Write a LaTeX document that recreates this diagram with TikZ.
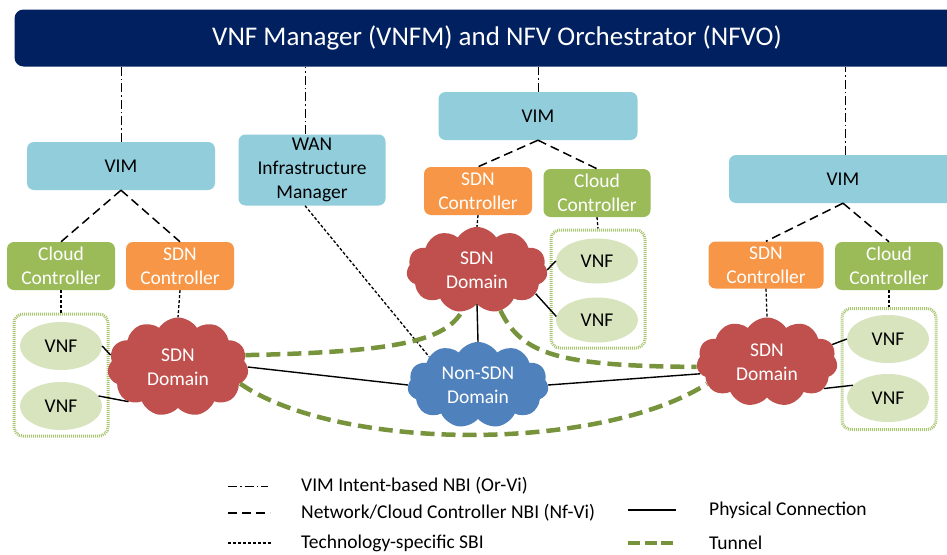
\documentclass[tikz,border=0pt]{standalone}
\usepackage{fontspec}
\setmainfont{Carlito}
\usetikzlibrary{shapes.symbols,shapes.geometric,calc}
\definecolor{navy}{HTML}{002060}
\definecolor{vimblue}{HTML}{92CDDC}
\definecolor{ccgreen}{HTML}{9BBB59}
\definecolor{sdnorange}{HTML}{F79646}
\definecolor{vnffill}{HTML}{D7E4BD}
\definecolor{sdnred}{HTML}{C0504D}
\definecolor{nonsdn}{HTML}{4F81BD}
\definecolor{tunnelgreen}{HTML}{77933C}
\tikzset{
  box/.style={rounded corners=7pt, inner sep=0pt, align=center, font=\fontsize{19.5}{24}\selectfont},
  vim/.style={box, fill=vimblue, text=black},
  cc/.style={box, fill=ccgreen, text=white},
  sdnc/.style={box, fill=sdnorange, text=white},
  vnf/.style={ellipse, fill=vnffill, minimum width=82pt, minimum height=48pt, inner sep=0pt, font=\fontsize{19.5}{24}\selectfont},
  grp/.style={draw=ccgreen!85, line width=3pt, dash pattern=on 1pt off 1pt, rounded corners=9pt, minimum width=94pt, inner sep=0pt},
  netcloud/.style={cloud, cloud puffs=11, cloud puff arc=115, aspect=1.6, inner sep=0pt, minimum width=141pt, minimum height=90pt, align=center, text=white, font=\fontsize{19.5}{24}\selectfont},
  orvi/.style={line width=1pt, dash pattern=on 9pt off 3pt on 1.5pt off 3pt},
  nfvi/.style={line width=1.5pt, dash pattern=on 9pt off 5pt},
  sbi/.style={line width=1.3pt, dash pattern=on 3pt off 2pt},
  phys/.style={line width=1.4pt},
  tunnel/.style={draw=tunnelgreen, line width=4.5pt, dash pattern=on 14pt off 7pt},
  legtext/.style={anchor=west, inner sep=0pt, font=\fontsize{19.5}{24}\selectfont}
}
\begin{document}
\begin{tikzpicture}[x=1pt,y=-1pt]
\clip (0,0) rectangle (947,554);
\fill[white] (0,0) rectangle (947,554);

% top bar
\node[box, fill=navy, text=white, minimum width=965pt, minimum height=57pt, rounded corners=9pt, font=\fontsize{27}{32}\selectfont] (top) at (497,38) {\raisebox{-3pt}{VNF Manager (VNFM) and NFV Orchestrator (NFVO)}};

% VIMs and WAN
\node[vim, minimum width=188pt, minimum height=48pt] (vimL) at (121,166) {VIM};
\node[vim, minimum width=147pt, minimum height=71pt] (wan) at (312,170) {WAN\\Infrastructure\\Manager};
\node[vim, minimum width=199pt, minimum height=48pt] (vimM) at (538,116) {VIM};
\node[vim, minimum width=228pt, minimum height=48pt] (vimR) at (843,179) {VIM};

% controllers
\node[cc, minimum width=108pt, minimum height=48pt] (ccL) at (61,266) {Cloud\\Controller};
\node[sdnc, minimum width=108pt, minimum height=48pt] (scL) at (180,266) {SDN\\Controller};
\node[sdnc, minimum width=108pt, minimum height=48pt] (scM) at (478,191) {SDN\\Controller};
\node[cc, minimum width=107pt, minimum height=48pt] (ccM) at (597,193) {Cloud\\Controller};
\node[sdnc, minimum width=115pt, minimum height=47pt] (scR) at (766,265) {SDN\\Controller};
\node[cc, minimum width=108pt, minimum height=48pt] (ccR) at (889,266) {Cloud\\Controller};

% VNF groups
\node[grp, minimum height=122pt] (gL) at (61,375) {};
\node[grp, minimum height=118pt] (gM) at (598,289) {};
\node[grp, minimum height=121pt] (gR) at (889,369) {};

% VNFs
\node[vnf] (vL1) at (61,346) {VNF};
\node[vnf] (vL2) at (61,406) {VNF};
\node[vnf, minimum height=45pt] (vM1) at (597,261) {VNF};
\node[vnf, minimum height=45pt] (vM2) at (597,320) {VNF};
\node[vnf] (vR1) at (888,339) {VNF};
\node[vnf] (vR2) at (888,398) {VNF};

% domains
\node[netcloud, fill=sdnred, minimum height=99pt] (sdnL) at (178,367) {SDN\\Domain};
\node[netcloud, fill=sdnred, minimum height=86pt] (sdnM) at (477,270) {SDN\\Domain};
\node[netcloud, fill=nonsdn, minimum height=86pt] (non) at (478,385) {Non-SDN\\Domain};
\node[netcloud, fill=sdnred, minimum height=89pt] (sdnR) at (767,362) {SDN\\Domain};

% Or-Vi (dash-dot)
\draw[orvi] (vimL.north) -- (vimL.north |- top.south);
\draw[orvi] ($(wan.north)+(-7,0)$) -- ($(wan.north |- top.south)+(-7,0)$);
\draw[orvi] (vimM.north) -- (vimM.north |- top.south);
\draw[orvi] ($(vimR.north)+(2,0)$) -- ($(vimR.north |- top.south)+(2,0)$);

% Nf-Vi (dashed)
\draw[nfvi] (vimL.south) -- (ccL.north);
\draw[nfvi] (vimL.south) -- (scL.north);
\draw[nfvi] (vimM.south) -- (scM.north);
\draw[nfvi] (vimM.south) -- (ccM.north);
\draw[nfvi] (vimR.south) -- (scR.north);
\draw[nfvi] (vimR.south) -- (ccR.north);

% SBI (dotted)
\draw[sbi] (ccL.south) -- (gL.north);
\draw[sbi] (scL.south) -- (sdnL.north);
\draw[sbi] (scM.south) -- (sdnM.north);
\draw[sbi] (ccM.south) -- (gM.north);
\draw[sbi] (scR.south) -- (sdnR.north);
\draw[sbi] (ccR.south) -- (gR.north);
\draw[sbi] ($(wan.south)+(-7,0)$) -- (non.150);

% physical connections
\draw[phys] (vL1.east) -- (sdnL.170);
\draw[phys] (vL2.15) -- (sdnL.215);
\draw[phys] (sdnL.east) -- (non.west);
\draw[phys] (sdnM.south) -- (non.north);
\draw[phys] (non.east) -- (sdnR.190);
\draw[phys] (sdnM.east) -- (vM1.west);
\draw[phys] (sdnM.-22) -- (vM2.175);
\draw[phys] (sdnR.15) -- (vR1.west);
\draw[phys] (sdnR.-25) -- (vR2.160);

% tunnels
\draw[tunnel] (sdnL.10) .. controls (400,352) and (445,340) .. (sdnM.250);
\draw[tunnel] (sdnL.-15) .. controls (340,452) and (600,452) .. (sdnR.200);
\draw[tunnel] (sdnM.300) .. controls (522,355) and (560,366) .. (sdnR.184);

% legend
\coordinate (l1a) at (228,486); \coordinate (l1b) at (268,486);
\coordinate (l2a) at (228,513); \coordinate (l2b) at (270,513);
\coordinate (l3a) at (228,543); \coordinate (l3b) at (272,543);
\coordinate (l4a) at (628,510); \coordinate (l4b) at (676,510);
\coordinate (l5a) at (628,543); \coordinate (l5b) at (673,543);
\draw[orvi] (l1a) -- (l1b);
\draw[nfvi] (l2a) -- (l2b);
\draw[sbi] (l3a) -- (l3b);
\draw[phys] (l4a) -- (l4b);
\draw[tunnel, dash pattern=on 12pt off 4.5pt] (l5a) -- (l5b);
\node[legtext] (t1) at (301,486) {VIM Intent-based NBI (Or-Vi)};
\node[legtext] (t2) at (301,513) {Network/Cloud Controller NBI (Nf-Vi)};
\node[legtext] (t3) at (301,543) {Technology-specific SBI};
\node[legtext] (t4) at (709,510) {Physical Connection};
\node[legtext] (t5) at (709,543) {Tunnel};
\end{tikzpicture}
\end{document}
